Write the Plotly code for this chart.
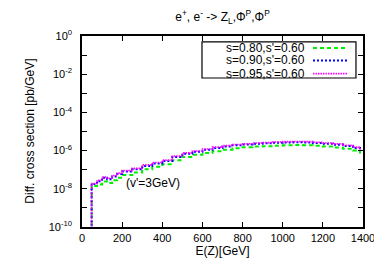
import plotly.graph_objects as go

# Energy of Z (GeV)
E = [47, 48, 50, 75, 100, 125, 150, 175, 200, 250, 300, 350, 400, 450, 500, 550, 600,
     650, 700, 750, 800, 850, 900, 950, 1000, 1050, 1100, 1150, 1200, 1250, 1300,
     1350, 1385]

# log10 of differential cross section [pb/GeV]
s080 = [-11, -7.90, -7.85, -7.78, -7.62, -7.70, -7.55, -7.42, -7.28, -7.15, -6.98,
        -6.85, -6.72, -6.50, -6.33, -6.22, -6.12, -6.03, -5.95, -5.88, -5.83, -5.79,
        -5.77, -5.74, -5.72, -5.71, -5.72, -5.74, -5.79, -5.84, -5.90, -6.00, -6.15]
s090 = [-11, -7.78, -7.75, -7.60, -7.42, -7.50, -7.35, -7.23, -7.10, -6.98, -6.80,
        -6.67, -6.55, -6.33, -6.17, -6.06, -5.96, -5.86, -5.78, -5.72, -5.68, -5.64,
        -5.62, -5.59, -5.57, -5.56, -5.57, -5.60, -5.64, -5.69, -5.76, -5.86, -6.00]
s095 = [-11, -7.74, -7.72, -7.55, -7.38, -7.45, -7.30, -7.18, -7.05, -6.93, -6.75,
        -6.62, -6.50, -6.28, -6.12, -6.02, -5.92, -5.82, -5.74, -5.68, -5.64, -5.60,
        -5.58, -5.55, -5.53, -5.52, -5.53, -5.56, -5.60, -5.65, -5.72, -5.82, -5.96]

labels = ["s=0.80,s'=0.60", "s=0.90,s'=0.60", "s=0.95,s'=0.60"]
colors = ["#00ee00", "#0000ff", "#ff00ff"]
dashes = ["4px,3px", "2px,2px", "1.5px,1px"]
widths = [2, 2, 1.6]

x_ticks = [0, 200, 400, 600, 800, 1000, 1200, 1400]
y_exps = list(range(-10, 1))

FONT = "Liberation Sans, Arial, Helvetica, sans-serif"

fig = go.Figure()
for lab, ys, c, d, w in zip(labels, [s080, s090, s095], colors, dashes, widths):
    fig.add_trace(go.Scatter(
        x=E, y=[10 ** v for v in ys], mode="lines", name=lab,
        line=dict(color=c, dash=d, width=w, shape="hv"), showlegend=False,
    ))

# gnuplot-style legend (text right-aligned, sample on the right)
leg_rows = [0.937, 0.872, 0.803]
fig.add_shape(type="rect", xref="paper", yref="paper", x0=0.427, x1=0.975,
              y0=0.780, y1=0.969, line=dict(color="black", width=1.2),
              fillcolor="white", layer="above")
for lab, c, d, w, yr in zip(labels, colors, dashes, widths, leg_rows):
    fig.add_annotation(xref="paper", yref="paper", x=0.80, y=yr, text=lab,
                       showarrow=False, xanchor="right", yanchor="middle",
                       font=dict(family=FONT, size=12, color="black"))
    fig.add_shape(type="line", xref="paper", yref="paper", x0=0.822, x1=0.947,
                  y0=yr, y1=yr, line=dict(color=c, dash=d, width=w), layer="above")

fig.add_annotation(x=355, y=-7.7, xref="x", yref="y", text="(v'=3GeV)",
                   showarrow=False, font=dict(family=FONT, size=12, color="black"))

# y-axis title placed as rotated text
fig.add_annotation(xref="paper", yref="paper", x=-0.188, y=0.5, textangle=-90,
                   text="Diff. cross section [pb/GeV]", showarrow=False,
                   xanchor="center", yanchor="middle",
                   font=dict(family=FONT, size=12, color="black"))

axis_common = dict(showline=True, linecolor="black", linewidth=1.5, mirror="ticks",
                   ticks="inside", tickcolor="black", showgrid=False, zeroline=False,
                   tickfont=dict(family=FONT, size=11, color="black"))

fig.update_layout(
    width=374, height=259,
    margin=dict(l=74, r=19, t=28, b=40),
    paper_bgcolor="white", plot_bgcolor="white",
    title=dict(text="e<sup>+</sup>, e<sup>-</sup> -> Z<sub>L</sub>,Φ<sup>P</sup>,Φ<sup>P</sup>",
               xref="paper", x=0.5, xanchor="center", y=0.965, yanchor="middle",
               font=dict(family=FONT, size=12, color="black")),
    xaxis=dict(range=[0, 1400], tickvals=x_ticks, ticklen=5, automargin=False,
               title=dict(text="E(Z)[GeV]", standoff=3,
                          font=dict(family=FONT, size=12, color="black")),
               **axis_common),
    yaxis=dict(type="log", range=[-10, 0], automargin=False,
               tickvals=[10 ** e for e in y_exps],
               ticktext=[("10<sup>%d</sup>" % e) if e % 2 == 0 else "" for e in y_exps],
               ticklen=5, ticklabelstandoff=6,
               **axis_common),
)

fig.write_html("out.html")
